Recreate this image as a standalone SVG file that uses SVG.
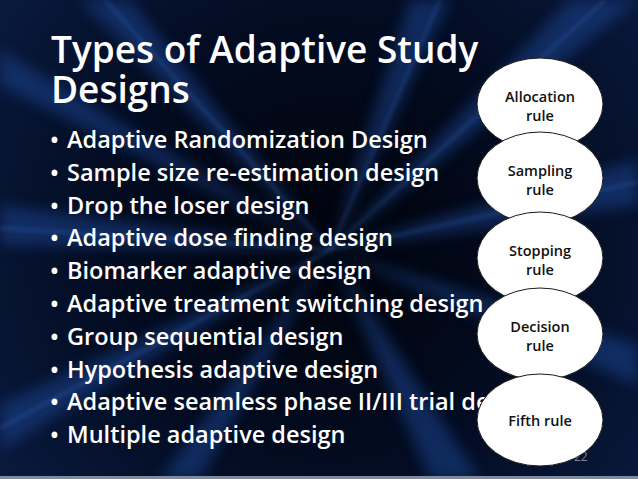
<svg xmlns="http://www.w3.org/2000/svg" width="638" height="479" viewBox="0 0 638 479">
<defs>
<radialGradient id="bg" cx="330" cy="240" r="420" gradientUnits="userSpaceOnUse">
<stop offset="0" stop-color="#01030a"/>
<stop offset="0.55" stop-color="#030c22"/>
<stop offset="1" stop-color="#0a1b40"/>
</radialGradient>
<filter id="blur" x="-20%" y="-20%" width="140%" height="140%"><feGaussianBlur stdDeviation="7"/></filter>
<filter id="blur2" x="-20%" y="-20%" width="140%" height="140%"><feGaussianBlur stdDeviation="2"/></filter>
<style>
.title{font-family:"Open Sans","Noto Sans",sans-serif;font-size:37px;font-weight:600;fill:#fff}
.item{font-family:"Open Sans","Noto Sans",sans-serif;font-size:23.5px;font-weight:600;fill:#fff}
.node ellipse{fill:#fff;stroke:#1a1a1a;stroke-width:1}
.node text{font-family:"Open Sans","Noto Sans",sans-serif;font-size:14.5px;font-weight:600;fill:#111;text-anchor:middle}
.pg{font-family:"Open Sans","Noto Sans",sans-serif;font-size:12px;fill:#7d869b}
</style>
</defs>
<g id="background">
<rect width="638" height="479" fill="url(#bg)"/>
<g filter="url(#blur)" fill="#1a4796" opacity="0.5">
<polygon points="330,250 0,205 0,245"/>
<polygon points="330,250 0,405 0,450"/>
<polygon points="330,250 80,0 130,0"/>
<polygon points="330,250 410,0 450,0"/>
<polygon points="330,250 570,0 638,0"/>
<polygon points="330,250 638,160 638,205"/>
<polygon points="330,250 638,345 638,385"/>
<polygon points="330,250 430,479 480,479"/>
<polygon points="330,250 160,479 200,479"/>
<polygon points="330,250 0,50 0,85"/>
</g>
<g filter="url(#blur2)" stroke="#3a6fc4" stroke-width="1.5" opacity="0.6">
<line x1="330" y1="250" x2="0" y2="228"/>
<line x1="330" y1="250" x2="0" y2="428"/>
<line x1="330" y1="250" x2="440" y2="0"/>
<line x1="330" y1="250" x2="105" y2="0"/>
<line x1="330" y1="250" x2="638" y2="182"/>
<line x1="330" y1="250" x2="605" y2="0"/>
</g>
<rect x="0" y="476" width="638" height="3" fill="#7d8aa0"/>
</g>
<g id="title">
<text class="title" x="51"><tspan x="51" y="63">Types of Adaptive Study</tspan><tspan x="51" y="103">Designs</tspan></text>
</g>
<g id="list">
<text class="item" x="50" y="148">•</text><text class="item" x="67" y="148">Adaptive Randomization Design</text>
<text class="item" x="50" y="181">•</text><text class="item" x="67" y="181">Sample size re-estimation design</text>
<text class="item" x="50" y="214">•</text><text class="item" x="67" y="214">Drop the loser design</text>
<text class="item" x="50" y="246">•</text><text class="item" x="67" y="246">Adaptive dose finding design</text>
<text class="item" x="50" y="279">•</text><text class="item" x="67" y="279">Biomarker adaptive design</text>
<text class="item" x="50" y="312">•</text><text class="item" x="67" y="312">Adaptive treatment switching design</text>
<text class="item" x="50" y="345">•</text><text class="item" x="67" y="345">Group sequential design</text>
<text class="item" x="50" y="378">•</text><text class="item" x="67" y="378">Hypothesis adaptive design</text>
<text class="item" x="50" y="410">•</text><text class="item" x="67" y="410">Adaptive seamless phase II/III trial de</text>
<text class="item" x="50" y="443">•</text><text class="item" x="67" y="443">Multiple adaptive design</text>
</g>
<text class="pg" x="574" y="461">22</text>
<g id="connectors"></g>
<g id="node-allocation" class="node"><ellipse cx="540" cy="104" rx="63" ry="46"/><text x="540" y="102">Allocation</text><text x="540" y="121">rule</text></g>
<g id="node-sampling" class="node"><ellipse cx="540" cy="178" rx="63" ry="46"/><text x="540" y="176">Sampling</text><text x="540" y="195">rule</text></g>
<g id="node-stopping" class="node"><ellipse cx="540" cy="258" rx="63" ry="46"/><text x="540" y="256">Stopping</text><text x="540" y="275">rule</text></g>
<g id="node-decision" class="node"><ellipse cx="540" cy="334" rx="63" ry="46"/><text x="540" y="332">Decision</text><text x="540" y="351">rule</text></g>
<g id="node-fifth" class="node"><ellipse cx="540" cy="420" rx="63" ry="46"/><text x="540" y="426">Fifth rule</text></g>
</svg>
